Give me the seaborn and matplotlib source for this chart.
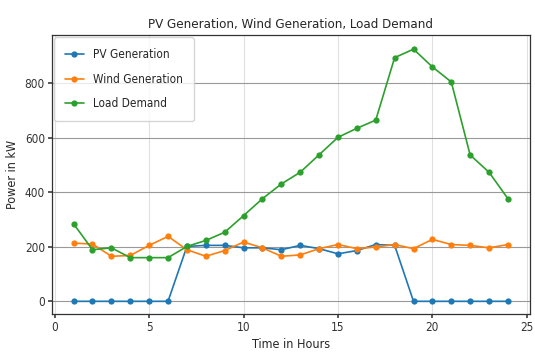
import numpy as np
import pandas as pd
import matplotlib
matplotlib.use("Agg")
import matplotlib.pyplot as plt
import seaborn as sns

hours = list(range(1, 25))
pv_generation = [0, 0, 0, 0, 0, 0, 201, 205, 205, 196, 196, 189,
                 205, 193, 174, 186, 208, 205, 0, 0, 0, 0, 0, 0]
wind_generation = [213, 210, 165, 168, 205, 238, 189, 165, 186, 217, 196, 165,
                   170, 193, 208, 193, 199, 208, 193, 227, 208, 205, 196, 208]
load_demand = [284, 189, 196, 160, 160, 160, 201, 223, 253, 314, 376, 430,
               473, 537, 601, 634, 664, 893, 924, 859, 804, 536, 473, 376]
series_names = ["PV Generation", "Wind Generation", "Load Demand"]

df = pd.DataFrame({
    "Time in Hours": hours * 3,
    "Power": pv_generation + wind_generation + load_demand,
    "Series": [series_names[0]] * 24 + [series_names[1]] * 24 + [series_names[2]] * 24,
})

sns.set_theme(style="whitegrid")
plt.rcParams['font.family'] = ['DejaVu Sans']
plt.rcParams['font.stretch'] = 'condensed'

fig = plt.figure(figsize=(5.35, 3.63), dpi=100)
ax = fig.add_axes([0.097, 0.135, 0.893, 0.769])
palette = ["#1f77b4", "#ff7f0e", "#2ca02c"]
sns.lineplot(data=df, x="Time in Hours", y="Power", hue="Series", palette=palette,
             marker="o", markersize=4.5, markeredgewidth=0, linewidth=1.2, ax=ax)

ax.set_xlim(-0.15, 25.15)
ax.set_ylim(-46.5, 976.5)
ax.set_xticks([0, 5, 10, 15, 20, 25])
ax.set_yticks([0, 200, 400, 600, 800])
ax.tick_params(labelsize=8.5, length=3, color="#444444", labelcolor="#333333",
               left=True, bottom=True, pad=2)
ax.grid(True, axis="y", color="#999999", linewidth=0.8)
ax.grid(True, axis="x", color="#e0e0e0", linewidth=0.8)
for s in ax.spines.values():
    s.set_color("#333333")
    s.set_linewidth(0.9)
ax.set_title("PV Generation, Wind Generation, Load Demand", fontsize=9.5, pad=5)
ax.set_xlabel("Time in Hours", fontsize=9, labelpad=3)
ax.set_ylabel("Power in kW", fontsize=9, labelpad=4)
leg = ax.legend(loc="upper left", fontsize=8.5, frameon=True, labelspacing=1.0,
                borderpad=0.9, handlelength=1.6, borderaxespad=0.2)
leg.set_title(None)

fig.savefig("out.png", dpi=100)
